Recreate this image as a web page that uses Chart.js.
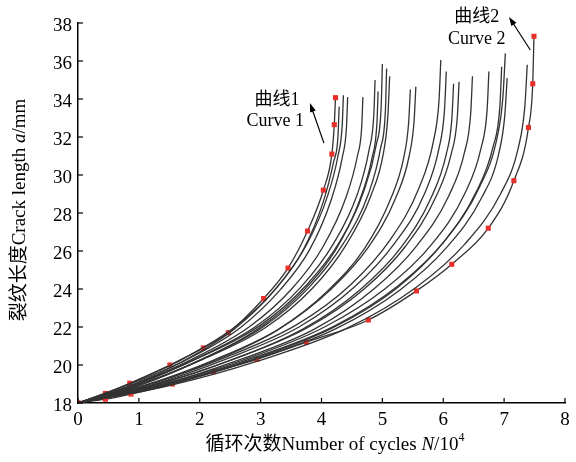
<!DOCTYPE html>
<html>
<head>
<meta charset="utf-8">
<script src="https://cdn.jsdelivr.net/npm/chart.js@4/dist/chart.umd.min.js"></script>
<style>
  body { margin: 0; background: #fff; }
  canvas { display: block; }
</style>
</head>
<body>
<canvas id="chart" width="576" height="462"></canvas>
<script>
// Axis ticks
const cycleTicks = [0, 1, 2, 3, 4, 5, 6, 7, 8];
const lengthTicks = [18, 20, 22, 24, 26, 28, 30, 32, 34, 36, 38];

// Curve 1 (fastest growth, red markers)
const curve1N = [0, 0.45, 0.85, 1.51, 2.06, 2.47, 3.05, 3.45, 3.77, 4.03, 4.17, 4.21, 4.23];
const curve1A = [18, 18.5, 19.04, 20.0, 20.9, 21.7, 23.5, 25.1, 27.05, 29.2, 31.1, 32.65, 34.07];

// Curve 2 (slowest growth, red markers)
const curve2N = [0, 0.45, 0.87, 1.55, 2.23, 2.94, 3.75, 4.77, 5.56, 6.14, 6.74, 7.16, 7.40, 7.47, 7.49];
const curve2A = [18, 18.2, 18.47, 19.0, 19.65, 20.3, 21.2, 22.37, 23.9, 25.3, 27.2, 29.7, 32.5, 34.8, 37.3];

// the other simulated curves, N (x10^4) and a (mm)
const otherN = [
  [0, 0.86, 1.72, 2.57, 3.22, 3.69, 4.03, 4.20, 4.27, 4.29],
  [0, 0.87, 1.74, 2.62, 3.27, 3.75, 4.10, 4.27, 4.34, 4.36],
  [0, 0.89, 1.77, 2.66, 3.32, 3.81, 4.16, 4.34, 4.41, 4.43],
  [0, 0.94, 1.87, 2.81, 3.51, 4.02, 4.40, 4.59, 4.66, 4.68],
  [0, 0.98, 1.95, 2.93, 3.66, 4.20, 4.59, 4.78, 4.86, 4.88],
  [0, 0.99, 1.97, 2.96, 3.70, 4.24, 4.63, 4.83, 4.91, 4.93],
  [0, 1.00, 2.00, 3.00, 3.75, 4.30, 4.70, 4.90, 4.98, 5.00],
  [0, 1.01, 2.03, 3.04, 3.80, 4.36, 4.77, 4.97, 5.05, 5.07],
  [0, 1.02, 2.05, 3.07, 3.84, 4.40, 4.81, 5.02, 5.09, 5.12],
  [0, 1.09, 2.18, 3.28, 4.10, 4.70, 5.13, 5.35, 5.43, 5.46],
  [0, 1.11, 2.22, 3.33, 4.16, 4.77, 5.22, 5.44, 5.52, 5.55],
  [0, 1.19, 2.38, 3.58, 4.47, 5.13, 5.60, 5.84, 5.93, 5.96],
  [0, 1.21, 2.42, 3.63, 4.54, 5.20, 5.69, 5.93, 6.02, 6.05],
  [0, 1.23, 2.47, 3.70, 4.63, 5.31, 5.80, 6.05, 6.14, 6.17],
  [0, 1.25, 2.50, 3.76, 4.70, 5.38, 5.88, 6.13, 6.23, 6.26],
  [0, 1.30, 2.59, 3.89, 4.86, 5.57, 6.09, 6.35, 6.45, 6.48],
  [0, 1.35, 2.70, 4.05, 5.06, 5.81, 6.35, 6.62, 6.72, 6.75],
  [0, 1.39, 2.78, 4.18, 5.22, 5.99, 6.54, 6.82, 6.93, 6.96],
  [0, 1.40, 2.81, 4.21, 5.27, 6.04, 6.60, 6.88, 6.98, 7.02],
  [0, 1.41, 2.82, 4.23, 5.29, 6.06, 6.63, 6.91, 7.01, 7.05],
  [0, 1.48, 2.95, 4.43, 5.54, 6.35, 6.94, 7.23, 7.34, 7.38]
];
const otherA = [
  [18, 19.0, 20.2, 21.9, 23.9, 26.0, 28.6, 30.7, 32.0, 33.6],
  [18, 19.05, 20.35, 22.1, 24.1, 26.3, 28.9, 31.0, 32.6, 34.2],
  [18, 18.95, 20.25, 21.95, 23.95, 26.1, 28.7, 30.9, 32.5, 34.1],
  [18, 19.0, 20.3, 22.0, 24.0, 26.2, 28.8, 31.0, 32.5, 34.1],
  [18, 19.0, 20.35, 22.05, 24.1, 26.4, 29.0, 31.3, 33.2, 35.0],
  [18, 18.9, 20.2, 21.9, 23.9, 26.1, 28.7, 30.9, 32.7, 34.4],
  [18, 19.05, 20.4, 22.1, 24.2, 26.5, 29.2, 31.6, 33.6, 35.84],
  [18, 18.95, 20.3, 22.0, 24.1, 26.4, 29.0, 31.4, 33.4, 35.6],
  [18, 19.0, 20.3, 21.95, 24.0, 26.3, 28.9, 31.2, 33.1, 35.2],
  [18, 18.9, 20.15, 21.85, 23.9, 26.1, 28.7, 30.9, 32.7, 34.5],
  [18, 18.95, 20.25, 21.95, 24.0, 26.2, 28.8, 31.0, 32.8, 34.65],
  [18, 19.0, 20.35, 22.1, 24.2, 26.6, 29.3, 31.8, 33.9, 36.05],
  [18, 18.95, 20.3, 22.0, 24.1, 26.4, 29.0, 31.4, 33.4, 35.45],
  [18, 18.9, 20.2, 21.9, 23.95, 26.2, 28.8, 31.1, 32.9, 34.8],
  [18, 18.95, 20.25, 21.95, 24.0, 26.25, 28.85, 31.1, 33.0, 34.9],
  [18, 18.9, 20.2, 21.9, 24.0, 26.3, 28.9, 31.2, 33.2, 35.2],
  [18, 18.95, 20.25, 22.0, 24.05, 26.35, 29.0, 31.4, 33.4, 35.45],
  [18, 18.9, 20.2, 21.95, 24.0, 26.4, 29.1, 31.5, 33.6, 35.7],
  [18, 18.95, 20.3, 22.05, 24.2, 26.6, 29.4, 31.9, 34.1, 36.4],
  [18, 18.9, 20.2, 21.9, 23.95, 26.2, 28.8, 31.1, 33.1, 35.1],
  [18, 18.9, 20.2, 21.95, 24.05, 26.35, 29.0, 31.4, 33.6, 35.8]
];

// annotation labels: text lines, label centre and arrow tail/tip, in data units
const label1Text = ['曲线1', 'Curve 1'];
const label1Pos = [[3.27, 33.95], [3.24, 32.84]];
const arrow1 = [[4.04, 31.68], [3.81, 33.79]];
const label2Text = ['曲线2', 'Curve 2'];
const label2Pos = [[6.55, 38.32], [6.55, 37.16]];
const arrow2 = [[7.43, 36.58], [7.08, 38.32]];

const serif = "'Liberation Serif', 'Times New Roman', 'Noto Sans CJK SC', serif";
const lineGrey = '#333333';
const markRed = '#e8302a';

function toPoints(xs, ys) {
    return xs.map((x, i) => ({ x: x, y: ys[i] }));
}

const datasets = [];
otherN.forEach((xs, i) => {
    datasets.push({
        data: toPoints(xs, otherA[i]),
        borderColor: lineGrey,
        borderWidth: 1.3,
        pointRadius: 0,
        cubicInterpolationMode: 'monotone'
    });
});
[[curve1N, curve1A], [curve2N, curve2A]].forEach(c => {
    datasets.push({
        data: toPoints(c[0], c[1]),
        borderColor: lineGrey,
        borderWidth: 1.3,
        pointStyle: 'rect',
        pointRadius: 3.6,
        pointBackgroundColor: markRed,
        pointBorderColor: markRed,
        pointBorderWidth: 0,
        cubicInterpolationMode: 'monotone'
    });
});

// write a line made of plain / italic / superscript pieces, centred on cx
function drawRich(ctx, parts, cx, cy) {
    const fontOf = p => (p.italic ? 'italic ' : '') + (p.sup ? 12 : 19) + 'px ' + serif;
    let total = 0;
    const widths = parts.map(p => {
        ctx.font = fontOf(p);
        const w = ctx.measureText(p.text).width;
        total += w;
        return w;
    });
    let x = cx - total / 2;
    ctx.textAlign = 'left';
    ctx.textBaseline = 'middle';
    parts.forEach((p, i) => {
        ctx.font = fontOf(p);
        ctx.fillText(p.text, x, p.sup ? cy - 7 : cy);
        x += widths[i];
    });
}

function drawArrow(ctx, x1, y1, x2, y2) {
    const ang = Math.atan2(y2 - y1, x2 - x1);
    const len = 9, half = 3;
    ctx.beginPath();
    ctx.moveTo(x1, y1);
    ctx.lineTo(x2 - Math.cos(ang) * len * 0.8, y2 - Math.sin(ang) * len * 0.8);
    ctx.stroke();
    ctx.beginPath();
    ctx.moveTo(x2, y2);
    ctx.lineTo(x2 - Math.cos(ang) * len - Math.sin(ang) * half, y2 - Math.sin(ang) * len + Math.cos(ang) * half);
    ctx.lineTo(x2 - Math.cos(ang) * len + Math.sin(ang) * half, y2 - Math.sin(ang) * len - Math.cos(ang) * half);
    ctx.closePath();
    ctx.fill();
}

const decorations = {
    id: 'decorations',
    afterDraw(chart) {
        const ctx = chart.ctx;
        const xs = chart.scales.x, ys = chart.scales.y;
        const area = chart.chartArea;
        ctx.save();
        ctx.strokeStyle = '#000';
        ctx.fillStyle = '#000';
        ctx.lineWidth = 1.2;

        // inward tick marks
        cycleTicks.forEach(v => {
            const px = xs.getPixelForValue(v);
            ctx.beginPath();
            ctx.moveTo(px, area.bottom);
            ctx.lineTo(px, area.bottom - 5);
            ctx.stroke();
        });
        lengthTicks.forEach(v => {
            const py = ys.getPixelForValue(v);
            ctx.beginPath();
            ctx.moveTo(area.left, py);
            ctx.lineTo(area.left + 5, py);
            ctx.stroke();
        });

        // axis titles
        drawRich(ctx, [
            { text: '循环次数Number of cycles ' },
            { text: 'N', italic: true },
            { text: '/10' },
            { text: '4', sup: true }
        ], 335, 445);
        ctx.save();
        ctx.translate(20, 210);
        ctx.rotate(-Math.PI / 2);
        drawRich(ctx, [
            { text: '裂纹长度Crack length ' },
            { text: 'a', italic: true },
            { text: '/mm' }
        ], 0, 0);
        ctx.restore();

        // curve labels and arrows
        ctx.font = '18px ' + serif;
        ctx.textAlign = 'center';
        ctx.textBaseline = 'middle';
        [[label1Text, label1Pos], [label2Text, label2Pos]].forEach(l => {
            l[0].forEach((t, i) => {
                ctx.fillText(t, xs.getPixelForValue(l[1][i][0]), ys.getPixelForValue(l[1][i][1]));
            });
        });
        [arrow1, arrow2].forEach(a => {
            drawArrow(ctx,
                xs.getPixelForValue(a[0][0]), ys.getPixelForValue(a[0][1]),
                xs.getPixelForValue(a[1][0]), ys.getPixelForValue(a[1][1]));
        });
        ctx.restore();
    }
};

new Chart(document.getElementById('chart'), {
    type: 'line',
    data: { datasets: datasets },
    options: {
        responsive: false,
        animation: false,
        layout: { padding: { top: 23, right: 11, left: 0, bottom: 0 } },
        plugins: { legend: { display: false }, tooltip: { enabled: false } },
        scales: {
            x: {
                type: 'linear',
                min: 0,
                max: 8,
                afterBuildTicks: s => { s.ticks = cycleTicks.map(v => ({ value: v })); },
                afterFit: s => { s.height = 59; },
                grid: { drawOnChartArea: false, drawTicks: false },
                border: { display: true, color: '#000', width: 1.5 },
                ticks: { font: { family: serif, size: 19 }, color: '#000', padding: 6, maxRotation: 0 }
            },
            y: {
                type: 'linear',
                min: 18,
                max: 38,
                afterBuildTicks: s => { s.ticks = lengthTicks.map(v => ({ value: v })); },
                afterFit: s => { s.width = 78; },
                grid: { drawOnChartArea: false, drawTicks: false },
                border: { display: true, color: '#000', width: 1.5 },
                ticks: { font: { family: serif, size: 19 }, color: '#000', padding: 6, labelOffset: 3 }
            }
        }
    },
    plugins: [decorations]
});
</script>
</body>
</html>
